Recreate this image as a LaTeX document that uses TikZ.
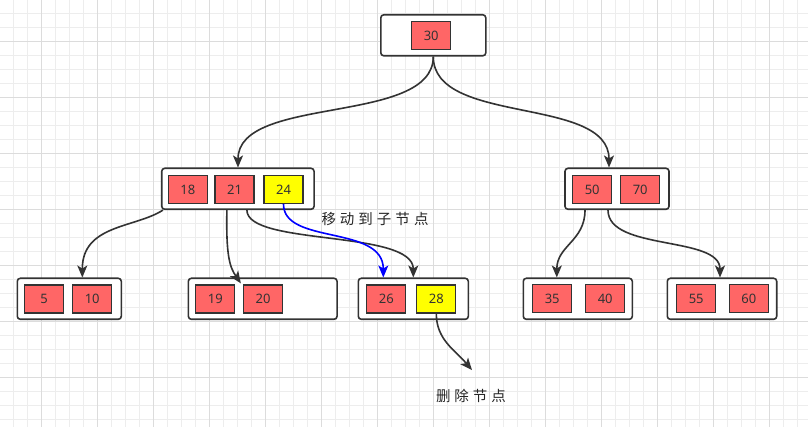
\documentclass[tikz,border=0pt]{standalone}
\usepackage{fontspec}
\setmainfont{Noto Sans}
\newfontfamily\cjk{Noto Sans CJK SC}
\usetikzlibrary{arrows.meta,calc}
\definecolor{ln}{HTML}{333333}
\definecolor{kred}{HTML}{FF6666}
\definecolor{kyel}{HTML}{FFFF00}
\definecolor{gminor}{HTML}{EDEDED}
\definecolor{gmajor}{HTML}{DCDCDC}
\begin{document}
\begin{tikzpicture}[x=1pt,y=-1pt,
 outer/.style={draw=ln, fill=white, rounded corners=3pt, line width=1.6pt, minimum height=41pt, inner sep=0pt},
 key/.style={draw=ln, fill=kred, line width=1.3pt, minimum width=39pt, minimum height=28pt, inner sep=0pt, font=\fontsize{13}{15}\selectfont, text=ln},
 ykey/.style={key, fill=kyel},
 conn/.style={draw=ln, line width=1.6pt, -{Stealth[length=12pt,width=10pt,inset=3pt]}},
 bconn/.style={conn, draw=blue},
 lbl/.style={font=\cjk\fontsize{14.5}{16}\selectfont, text=black!85, inner sep=0pt}
]
\useasboundingbox (0,0) rectangle (808,427);
\fill[white] (0,0) rectangle (808,427);
\foreach \v in {13.5,27.5,...,808} \draw[gminor, line width=1pt] (\v,0) -- (\v,427);
\foreach \v in {13.5,27.5,...,427} \draw[gminor, line width=1pt] (0,\v) -- (808,\v);
\foreach \v in {41.5,97.5,...,808} \draw[gmajor, line width=1pt] (\v,0) -- (\v,427);
\foreach \v in {41.5,97.5,...,427} \draw[gmajor, line width=1pt] (0,\v) -- (808,\v);

% outer boxes
\node[outer, minimum width=105pt] (root) at (433.3,35.3) {};
\node[outer, minimum width=152.3pt] (L2L) at (237.9,188.8) {};
\node[outer, minimum width=104pt] (L2R) at (617,188.8) {};
\node[outer, minimum width=104pt] (L3a) at (69.3,298.8) {};
\node[outer, minimum width=148.7pt] (L3b) at (262.7,298.8) {};
\node[outer, minimum width=110pt] (L3c) at (413.3,298.8) {};
\node[outer, minimum width=109pt] (L3d) at (577.8,298.8) {};
\node[outer, minimum width=109.4pt] (L3e) at (722,298.8) {};

% keys
\node[key] (k30) at (431.2,35.5) {30};
\node[key] (k18) at (187.8,189.5) {18};
\node[key] (k21) at (234.5,189.5) {21};
\node[ykey] (k24) at (283.5,189.5) {24};
\node[key] (k50) at (592.2,189.7) {50};
\node[key] (k70) at (640.2,189.7) {70};
\node[key] (k5) at (44.2,299) {5};
\node[key] (k10) at (92.2,299) {10};
\node[key] (k19) at (215.3,299) {19};
\node[key] (k20) at (263,299) {20};
\node[key] (k26) at (386.3,299) {26};
\node[ykey] (k28) at (436.3,299) {28};
\node[key] (k35) at (552.2,298.7) {35};
\node[key] (k40) at (605.2,298.7) {40};
\node[key] (k55) at (696.2,298.7) {55};
\node[key] (k60) at (748.8,298.7) {60};

% labels
\node[lbl] (mv) at (375,219) {移\hspace{4pt}动\hspace{4pt}到\hspace{4pt}子\hspace{4pt}节\hspace{4pt}点};
\node[lbl] (del) at (471,396) {删\hspace{4pt}除\hspace{4pt}节\hspace{4pt}点};
\coordinate (delarr) at ($(del.north)+(1,-19)$);

% connectors
\draw[conn] (root.south) .. controls +(0,69) and +(0,-73) .. ($(L2L.north)+(0.1,0)$);
\draw[conn] (root.south) .. controls +(0,69) and +(0,-72) .. ($(L2R.north)+(-8,0)$);
\draw[conn] ($(L2L.south west)+(2,0)$) .. controls +(-28,18) and +(0,-53) .. ($(L3a.north)+(13,0)$);
\draw[conn] ($(L2L.south)+(-11,0)$) .. controls +(-1,46) and +(-11,-16) .. ($(k20.north west)+(-2,-1)$);
\draw[conn] ($(L2L.south)+(9,0)$) .. controls +(0,36) and +(0,-48) .. (L3c.north);
\draw[bconn] (k24.south) .. controls +(0,41) and +(0,-53) .. ($(L3c.north)+(-30,0)$);
\draw[conn] (k28.south) .. controls +(0,26) and +(-17,-20) .. (delarr);
\draw[conn] ($(L2R.south)+(-32,0)$) .. controls +(0,31) and +(0,-32) .. ($(L3d.north)+(-21,0)$);
\draw[conn] ($(L2R.south)+(-9,0)$) .. controls +(0,41) and +(0,-42) .. ($(L3e.north)+(-2,0)$);
\end{tikzpicture}
\end{document}
